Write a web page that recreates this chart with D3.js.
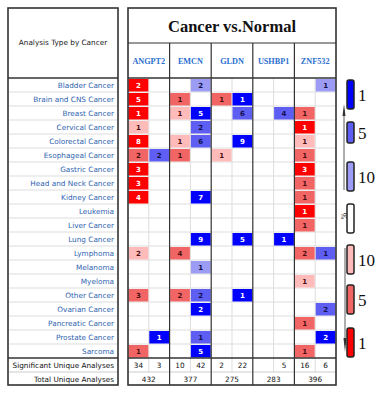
<!DOCTYPE html>
<html><head><meta charset="utf-8">
<script src="https://cdn.jsdelivr.net/npm/d3@7"></script>
<style>html,body{margin:0;padding:0;background:#fff}svg{display:block}</style>
</head><body>
<script>
const cancers = ["Bladder Cancer","Brain and CNS Cancer","Breast Cancer","Cervical Cancer","Colorectal Cancer","Esophageal Cancer","Gastric Cancer","Head and Neck Cancer","Kidney Cancer","Leukemia","Liver Cancer","Lung Cancer","Lymphoma","Melanoma","Myeloma","Other Cancer","Ovarian Cancer","Pancreatic Cancer","Prostate Cancer","Sarcoma"];
const genes = ["ANGPT2","EMCN","GLDN","USHBP1","ZNF532"];
// cells: [gene, cancer, count, percentile level]
const upCells = [
 ["ANGPT2","Bladder Cancer",2,1],["ANGPT2","Brain and CNS Cancer",5,1],["ANGPT2","Breast Cancer",1,1],["ANGPT2","Cervical Cancer",1,10],
 ["ANGPT2","Colorectal Cancer",8,1],["ANGPT2","Esophageal Cancer",2,5],["ANGPT2","Gastric Cancer",3,1],["ANGPT2","Head and Neck Cancer",3,1],
 ["ANGPT2","Kidney Cancer",4,1],["ANGPT2","Lymphoma",2,10],["ANGPT2","Other Cancer",3,5],["ANGPT2","Sarcoma",1,5],
 ["EMCN","Brain and CNS Cancer",1,5],["EMCN","Breast Cancer",1,10],["EMCN","Colorectal Cancer",1,10],["EMCN","Esophageal Cancer",1,5],
 ["EMCN","Lymphoma",4,5],["EMCN","Other Cancer",2,5],
 ["GLDN","Brain and CNS Cancer",1,5],["GLDN","Esophageal Cancer",1,10],
 ["ZNF532","Breast Cancer",1,5],["ZNF532","Cervical Cancer",1,1],["ZNF532","Colorectal Cancer",1,10],["ZNF532","Esophageal Cancer",1,5],
 ["ZNF532","Gastric Cancer",3,1],["ZNF532","Head and Neck Cancer",1,5],["ZNF532","Kidney Cancer",1,5],["ZNF532","Leukemia",1,1],
 ["ZNF532","Liver Cancer",1,5],["ZNF532","Lymphoma",2,5],["ZNF532","Myeloma",1,10],["ZNF532","Pancreatic Cancer",1,5],["ZNF532","Sarcoma",1,5]
];
const downCells = [
 ["ANGPT2","Esophageal Cancer",2,5],["ANGPT2","Prostate Cancer",1,1],
 ["EMCN","Bladder Cancer",2,10],["EMCN","Breast Cancer",5,1],["EMCN","Cervical Cancer",2,5],["EMCN","Colorectal Cancer",6,5],
 ["EMCN","Kidney Cancer",7,1],["EMCN","Lung Cancer",9,1],["EMCN","Melanoma",1,10],["EMCN","Other Cancer",2,5],
 ["EMCN","Ovarian Cancer",2,1],["EMCN","Prostate Cancer",1,5],["EMCN","Sarcoma",5,1],
 ["GLDN","Brain and CNS Cancer",1,1],["GLDN","Breast Cancer",6,5],["GLDN","Colorectal Cancer",9,1],["GLDN","Lung Cancer",5,1],["GLDN","Other Cancer",1,1],
 ["USHBP1","Breast Cancer",4,5],["USHBP1","Lung Cancer",1,1],
 ["ZNF532","Bladder Cancer",1,10],["ZNF532","Lymphoma",1,5],["ZNF532","Ovarian Cancer",2,5],["ZNF532","Prostate Cancer",2,1]
];
const sigUp = [34,10,2,null,16];
const sigDown = [3,42,22,5,6];
const totals = [432,377,275,283,396];
const legendLevels = [1,5,10];

const W=383,H=395;
const svg=d3.select("body").append("svg").attr("width",W).attr("height",H);
const redC={1:"#ff0000",5:"#f26565",10:"#ffbaba"};
const blueC={1:"#0000ff",5:"#5e5ef2",10:"#9c9cf4"};

const y=d3.scaleBand().domain(cancers).range([78,358]);
const gx=d3.scaleBand().domain(genes).range([128,336]);
const sub=d3.scaleBand().domain(["up","down"]).range([0,gx.bandwidth()]);
const sans="'DejaVu Sans', Verdana, sans-serif";
const serif="'Liberation Serif','DejaVu Serif',serif";

// left table
const L=svg.append("g");
L.append("rect").attr("x",8).attr("y",8).attr("width",110).attr("height",377).attr("fill","#fff").attr("stroke","#333").attr("stroke-width",1.6);
L.append("line").attr("x1",8).attr("x2",118).attr("y1",78).attr("y2",78).attr("stroke","#333").attr("stroke-width",1.5);
L.append("text").attr("x",63).attr("y",45).attr("text-anchor","middle").attr("font-family",sans).attr("font-size",7.3).attr("fill","#222").text("Analysis Type by Cancer");
cancers.forEach((c,i)=>{
  if(i>0) L.append("line").attr("x1",9).attr("x2",117).attr("y1",y(c)).attr("y2",y(c)).attr("stroke","#ddd").attr("stroke-width",1);
  L.append("text").attr("x",114).attr("y",y(c)+y.bandwidth()/2+2.6).attr("text-anchor","end").attr("font-family",sans).attr("font-size",7.3).attr("fill","#2f64b0").text(c);
});
L.append("line").attr("x1",8).attr("x2",118).attr("y1",358).attr("y2",358).attr("stroke","#333").attr("stroke-width",1.5);
L.append("line").attr("x1",9).attr("x2",117).attr("y1",372).attr("y2",372).attr("stroke","#ccc").attr("stroke-width",1);
L.append("text").attr("x",114).attr("y",367.5).attr("text-anchor","end").attr("font-family",sans).attr("font-size",7.3).attr("fill","#111").text("Significant Unique Analyses");
L.append("text").attr("x",114).attr("y",381.5).attr("text-anchor","end").attr("font-family",sans).attr("font-size",7.3).attr("fill","#111").text("Total Unique Analyses");

// right table
const R=svg.append("g");
R.append("rect").attr("x",128).attr("y",8).attr("width",208).attr("height",377).attr("fill","#fff");
cancers.forEach((c,i)=>{ if(i>0) R.append("line").attr("x1",128).attr("x2",336).attr("y1",y(c)).attr("y2",y(c)).attr("stroke","#ddd"); });
genes.forEach(g=>{
  const xm=gx(g)+sub("down");
  R.append("line").attr("x1",xm).attr("x2",xm).attr("y1",78).attr("y2",372).attr("stroke","#ddd");
});
R.append("line").attr("x1",128).attr("x2",336).attr("y1",372).attr("y2",372).attr("stroke","#ccc");
function cell(d,dir){
  const [g,c,v,lvl]=d;
  const x0=gx(g)+sub(dir), w=sub.bandwidth();
  const col=dir==="up"?redC[lvl]:blueC[lvl];
  R.append("rect").attr("x",x0+0.5).attr("y",y(c)+1).attr("width",w-1).attr("height",y.bandwidth()-1.5).attr("fill",col);
  R.append("text").attr("x",x0+w/2).attr("y",y(c)+y.bandwidth()/2+2.6).attr("text-anchor","middle")
   .attr("font-family",sans).attr("font-size",7).attr("font-weight","bold")
   .attr("fill",lvl===1?"#fff":(dir==="up"?"#4a1010":"#10104a")).text(v);
}
upCells.forEach(d=>cell(d,"up"));
downCells.forEach(d=>cell(d,"down"));
genes.forEach((g,i)=>{
  const x0=gx(g);
  if(sigUp[i]!=null) R.append("text").attr("x",x0+sub("up")+sub.bandwidth()/2).attr("y",367.5).attr("text-anchor","middle").attr("font-family",sans).attr("font-size",7.3).attr("fill","#111").text(sigUp[i]);
  R.append("text").attr("x",x0+sub("down")+sub.bandwidth()/2).attr("y",367.5).attr("text-anchor","middle").attr("font-family",sans).attr("font-size",7.3).attr("fill","#111").text(sigDown[i]);
  R.append("text").attr("x",x0+gx.bandwidth()/2).attr("y",381.5).attr("text-anchor","middle").attr("font-family",sans).attr("font-size",7.3).attr("fill","#111").text(totals[i]);
  R.append("text").attr("x",x0+gx.bandwidth()/2).attr("y",63.5).attr("text-anchor","middle").attr("font-family",serif).attr("font-weight","bold").attr("font-size",8.2).attr("fill","#2a6fd0").text(g);
  if(i>0) R.append("line").attr("x1",x0).attr("x2",x0).attr("y1",43).attr("y2",385).attr("stroke","#333").attr("stroke-width",1.2);
});
R.append("line").attr("x1",128).attr("x2",336).attr("y1",43).attr("y2",43).attr("stroke","#333").attr("stroke-width",1.2);
R.append("line").attr("x1",128).attr("x2",336).attr("y1",78).attr("y2",78).attr("stroke","#333").attr("stroke-width",1.5);
R.append("line").attr("x1",128).attr("x2",336).attr("y1",358).attr("y2",358).attr("stroke","#333").attr("stroke-width",1.5);
R.append("rect").attr("x",128).attr("y",8).attr("width",208).attr("height",377).attr("fill","none").attr("stroke","#333").attr("stroke-width",1.6);
R.append("text").attr("x",232).attr("y",32).attr("text-anchor","middle").attr("font-family",serif).attr("font-weight","bold").attr("font-size",16.5).attr("fill","#111").text("Cancer vs.Normal");

// legend
const Lg=svg.append("g");
const blueY=[80,122,162], redY=[328,285,245];
function tube(x,y0,h,col){
  Lg.append("rect").attr("x",x).attr("y",y0).attr("width",7).attr("height",h).attr("rx",2).attr("fill",col).attr("stroke","#222").attr("stroke-width",1.5);
}
legendLevels.forEach((lv,i)=>{
  tube(347,blueY[i],i===1?21:29,blueC[lv]);
  Lg.append("text").attr("x",358).attr("y",blueY[i]+(i===1?17:21)).attr("font-family",serif).attr("font-size",17).attr("fill","#111").text(lv);
  tube(347,redY[i],29,redC[lv]);
  Lg.append("text").attr("x",358).attr("y",redY[i]+21).attr("font-family",serif).attr("font-size",17).attr("fill","#111").text(lv);
});
tube(347,204,29,"#fff");
Lg.append("text").attr("transform","translate(341,216) rotate(90)").attr("font-family",serif).attr("font-size",8).attr("text-anchor","middle").attr("fill","#222").text("%");
// arrows
Lg.append("line").attr("x1",344).attr("x2",344).attr("y1",110).attr("y2",190).attr("stroke","#333").attr("stroke-width",0.8);
Lg.append("path").attr("d","M344,104 L342.5,116 L345.5,116 Z").attr("fill","#333");
Lg.append("line").attr("x1",345).attr("x2",345).attr("y1",248).attr("y2",345).attr("stroke","#333").attr("stroke-width",0.8);
Lg.append("path").attr("d","M345,352 L343.5,338 L346.5,338 Z").attr("fill","#333");
</script>
</body></html>
